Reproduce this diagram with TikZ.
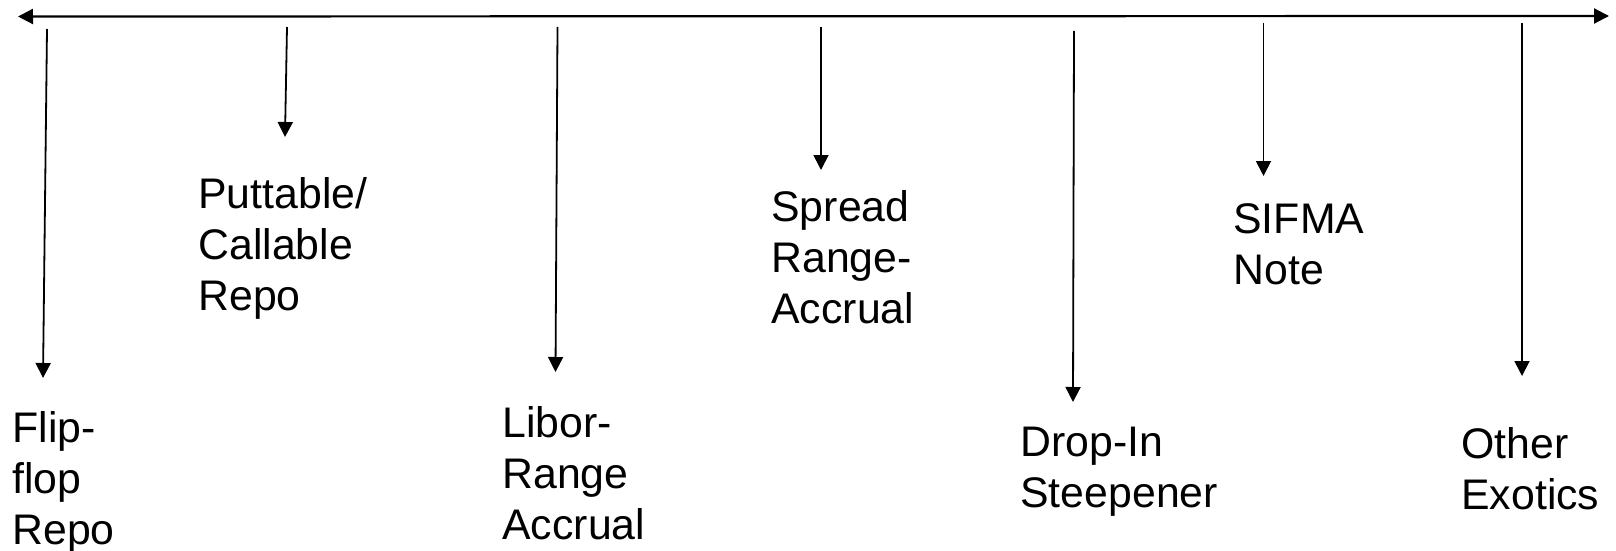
\documentclass[tikz,border=0pt]{standalone}
\usepackage{fontspec}
\setmainfont{Liberation Sans}
\usetikzlibrary{arrows.meta}
\tikzset{
  tip/.style={-{Triangle[length=7.5pt,width=7.5pt]}, line width=0.9pt},
  lbl/.style={anchor=north west, inner sep=0pt, align=left,
    font=\fontsize{21.4pt}{25.5pt}\selectfont}
}
\begin{document}
\begin{tikzpicture}[x=0.5pt,y=-0.5pt]
\useasboundingbox (0,0) rectangle (1616,551);
\coordinate (tl0) at (18,16.5);
\coordinate (tl1) at (1609,16);
\draw[line width=1.1pt, {Triangle[length=7.5pt,width=7.5pt]}-{Triangle[length=7.5pt,width=7.5pt]}] (tl0) -- (tl1);
\coordinate (t0) at (47,29);
\coordinate (b0) at (43,378);
\draw[tip] (t0) -- (b0);
\coordinate (t1) at (287,27);
\coordinate (b1) at (285,137);
\draw[tip] (t1) -- (b1);
\coordinate (t2) at (557.5,27);
\coordinate (b2) at (555.5,372);
\draw[tip] (t2) -- (b2);
\coordinate (t3) at (821,27);
\coordinate (b3) at (821,170);
\draw[tip] (t3) -- (b3);
\coordinate (t4) at (1074,31);
\coordinate (b4) at (1073,402);
\draw[tip] (t4) -- (b4);
\coordinate (t5) at (1263.5,23);
\coordinate (b5) at (1263.5,176);
\draw[tip] (t5) -- (b5);
\coordinate (t6) at (1522,23);
\coordinate (b6) at (1522,376);
\draw[tip] (t6) -- (b6);
\node[lbl] (lab0) at (12,411) {Flip-\\flop\\Repo};
\node[lbl] (lab1) at (198,177) {Puttable/\\Callable\\Repo};
\node[lbl] (lab2) at (502,406) {Libor-\\Range\\Accrual};
\node[lbl] (lab3) at (771,190) {Spread\\Range-\\Accrual};
\node[lbl] (lab4) at (1020,427) {Drop-In\\Steepener};
\node[lbl] (lab5) at (1233,203) {SIFMA\\Note};
\node[lbl] (lab6) at (1461,427) {Other\\Exotics};
\end{tikzpicture}
\end{document}
